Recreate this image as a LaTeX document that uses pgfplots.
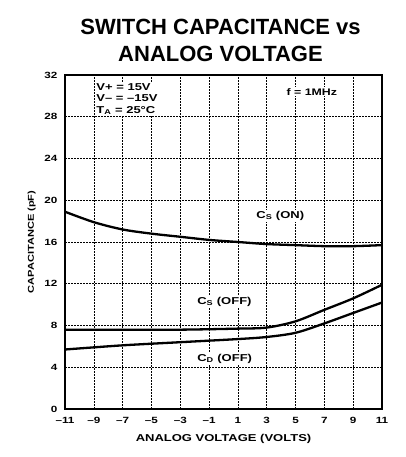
\documentclass[border=0pt]{standalone}
\usepackage{pgfplots}
\pgfplotsset{compat=1.18}
\usepackage{fontspec}
\setmainfont{Liberation Sans}
\newfontfamily\wide[FakeStretch=1.3]{Liberation Sans}
\begin{document}
\begin{tikzpicture}
\begin{axis}[name=ax,
  scale only axis, width=317pt, height=334pt,
  xmin=-11, xmax=11, ymin=0, ymax=32,
  xtick={-11,-9,...,11}, ytick={0,4,...,32},
  xticklabels={–11,–9,–7,–5,–3,–1,1,3,5,7,9,11},
  grid=major,
  major grid style={black, line width=0.6pt, dash pattern=on 2pt off 1pt},
  axis line style={line width=1.6pt},
  tick style={draw=none},
  ticklabel style={font=\wide\bfseries\fontsize{9}{9}\selectfont},
  xticklabel style={yshift=-5pt},
  yticklabel style={xshift=-4pt},
  /pgf/number format/assume math mode=true,
  xlabel={ANALOG VOLTAGE (VOLTS)},
  ylabel={CAPACITANCE (pF)},
  xlabel style={font=\wide\bfseries\fontsize{10}{10}\selectfont, yshift=-3pt},
  ylabel style={font=\wide\bfseries\fontsize{8.5}{9}\selectfont, yshift=2pt},
]
\addplot[black, line width=2.3pt, smooth, no marks] coordinates {(-11,18.9)(-9,17.9)(-7,17.2)(-5,16.8)(-3,16.5)(-1,16.2)(1,16.0)(3,15.8)(5,15.7)(7,15.6)(9,15.6)(11,15.7)};
\addplot[black, line width=2.3pt, smooth, no marks] coordinates {(-11,7.6)(-7,7.6)(-3,7.6)(1,7.7)(3,7.8)(5,8.4)(7,9.5)(9,10.6)(11,11.9)};
\addplot[black, line width=2.3pt, smooth, no marks] coordinates {(-11,5.7)(-7,6.1)(-3,6.4)(1,6.7)(3,6.9)(5,7.3)(7,8.2)(9,9.2)(11,10.2)};
\node[anchor=north west, align=left, fill=white, inner sep=1pt, font=\wide\bfseries\fontsize{10}{11.5}\selectfont] at (axis cs:-8.9,31.3) {V+ = 15V\\V– = –15V\\T\textsubscript{A} = 25°C};
\node[anchor=west, fill=white, inner sep=1pt, font=\wide\bfseries\fontsize{9.5}{9}\selectfont] at (axis cs:4.3,30.4) {f = 1MHz};
\node[anchor=west, fill=white, inner sep=1pt, font=\wide\bfseries\fontsize{10}{10}\selectfont] at (axis cs:2.2,18.5) {C\textsubscript{S} (ON)};
\node[anchor=west, fill=white, inner sep=1pt, font=\wide\bfseries\fontsize{10}{10}\selectfont] at (axis cs:-1.9,10.3) {C\textsubscript{S} (OFF)};
\node[anchor=west, fill=white, inner sep=1pt, font=\wide\bfseries\fontsize{10}{10}\selectfont] at (axis cs:-1.9,4.8) {C\textsubscript{D} (OFF)};
\end{axis}
\node[align=center, font=\bfseries\fontsize{22}{27}\selectfont, anchor=south] at ([xshift=-3pt,yshift=10pt]ax.north) {SWITCH CAPACITANCE vs\\ANALOG VOLTAGE};
\pgfresetboundingbox
\path[use as bounding box] (ax.south west) ++(-65pt,-48pt) rectangle ++(405pt,457pt);
\end{tikzpicture}
\end{document}
